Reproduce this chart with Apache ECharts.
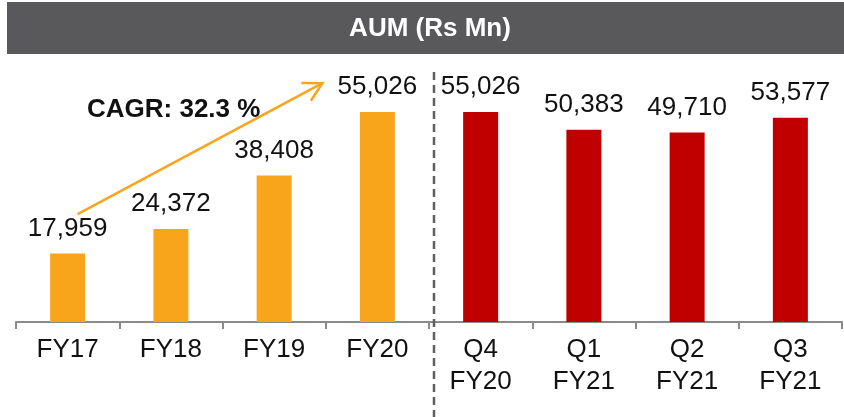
<!DOCTYPE html>
<html>
<head>
<meta charset="utf-8">
<title>AUM (Rs Mn)</title>
<script src="https://cdn.jsdelivr.net/npm/echarts@6/dist/echarts.min.js"></script>
<style>
  html, body { margin: 0; padding: 0; background: #ffffff; }
  #chart { width: 844px; height: 417px; }
</style>
</head>
<body>
<div id="chart"></div>
<script>
// Period labels (axis) and AUM values in Rs Mn
const categories = ['FY17', 'FY18', 'FY19', 'FY20', 'Q4\nFY20', 'Q1\nFY21', 'Q2\nFY21', 'Q3\nFY21'];
const aumValues = [17959, 24372, 38408, 55026, 55026, 50383, 49710, 53577];
// Which bars are annual (orange) vs quarterly (red)
const periodType = ['annual', 'annual', 'annual', 'annual', 'quarter', 'quarter', 'quarter', 'quarter'];
const cagrText = 'CAGR: 32.3 %';

const FONT = "'Liberation Sans', Arial, Helvetica, sans-serif";
const COLORS = { annual: '#F8A51C', quarter: '#C00000' };

const fmt = v => String(v).replace(/\B(?=(\d{3})+(?!\d))/g, ',');

const chart = echarts.init(document.getElementById('chart'), null, { renderer: 'canvas' });

chart.setOption({
  animation: false,
  grid: { left: 16, right: 2, top: 55, bottom: 95 },
  xAxis: {
    type: 'category',
    data: categories,
    axisLine: { lineStyle: { color: '#8a8a8a', width: 2 } },
    axisTick: { show: true, length: 7, lineStyle: { color: '#8a8a8a', width: 2 } },
    axisLabel: {
      color: '#111111', fontFamily: FONT, fontSize: 26, lineHeight: 32,
      margin: 12, interval: 0
    }
  },
  yAxis: { type: 'value', min: 0, max: 70000, show: false },
  series: [{
    type: 'bar',
    barWidth: 35,
    data: aumValues.map((v, i) => ({ value: v, itemStyle: { color: COLORS[periodType[i]] } })),
    label: {
      show: true, position: 'top', distance: 12,
      color: '#111111', fontFamily: FONT, fontSize: 26,
      formatter: p => fmt(p.value)
    }
  }]
});

// Header band, annual/quarterly separator and CAGR arrow, anchored to the axes
function drawOverlay() {
  const fy20 = chart.convertToPixel({ gridIndex: 0 }, [3, 0]);
  const q4 = chart.convertToPixel({ gridIndex: 0 }, [4, 0]);
  const sepX = (fy20[0] + q4[0]) / 2 + 5;

  // CAGR arrow: from above FY17 up toward the FY20 label
  const start = chart.convertToPixel({ gridIndex: 0 }, [0, 28300]);
  const end = chart.convertToPixel({ gridIndex: 0 }, [3, 62600]);
  const x1 = start[0] + 10, y1 = start[1];
  const x2 = end[0] - 55, y2 = end[1];
  const back = Math.atan2(y1 - y2, x1 - x2);
  const headLen = 21, spread = Math.PI / 6.3;
  const arm = a => [x2 + headLen * Math.cos(a), y2 + headLen * Math.sin(a)];

  chart.setOption({
    graphic: [
      {
        type: 'rect', z: 10,
        shape: { x: 7, y: 2, width: 837, height: 52 },
        style: { fill: '#59595B' }
      },
      {
        type: 'text', z: 11, x: 430, y: 29,
        style: {
          text: 'AUM (Rs Mn)', fill: '#ffffff', font: 'bold 26px ' + FONT,
          align: 'center', verticalAlign: 'middle'
        }
      },
      {
        type: 'line', z: 5,
        shape: { x1: sepX, y1: 72, x2: sepX, y2: 417 },
        style: { stroke: '#5f5f5f', lineWidth: 2.5, lineDash: [8, 5] }
      },
      {
        type: 'line', z: 6,
        shape: { x1: x1, y1: y1, x2: x2, y2: y2 },
        style: { stroke: '#F8A51C', lineWidth: 2.5 }
      },
      {
        type: 'polyline', z: 6,
        shape: { points: [arm(back - spread), [x2, y2], arm(back + spread)] },
        style: { stroke: '#F8A51C', lineWidth: 2.5, fill: null }
      },
      {
        type: 'text', z: 7, x: 87, y: 110,
        style: {
          text: cagrText, fill: '#111111', font: 'bold 26px ' + FONT,
          align: 'left', verticalAlign: 'middle'
        }
      }
    ]
  });
}
drawOverlay();
</script>
</body>
</html>
